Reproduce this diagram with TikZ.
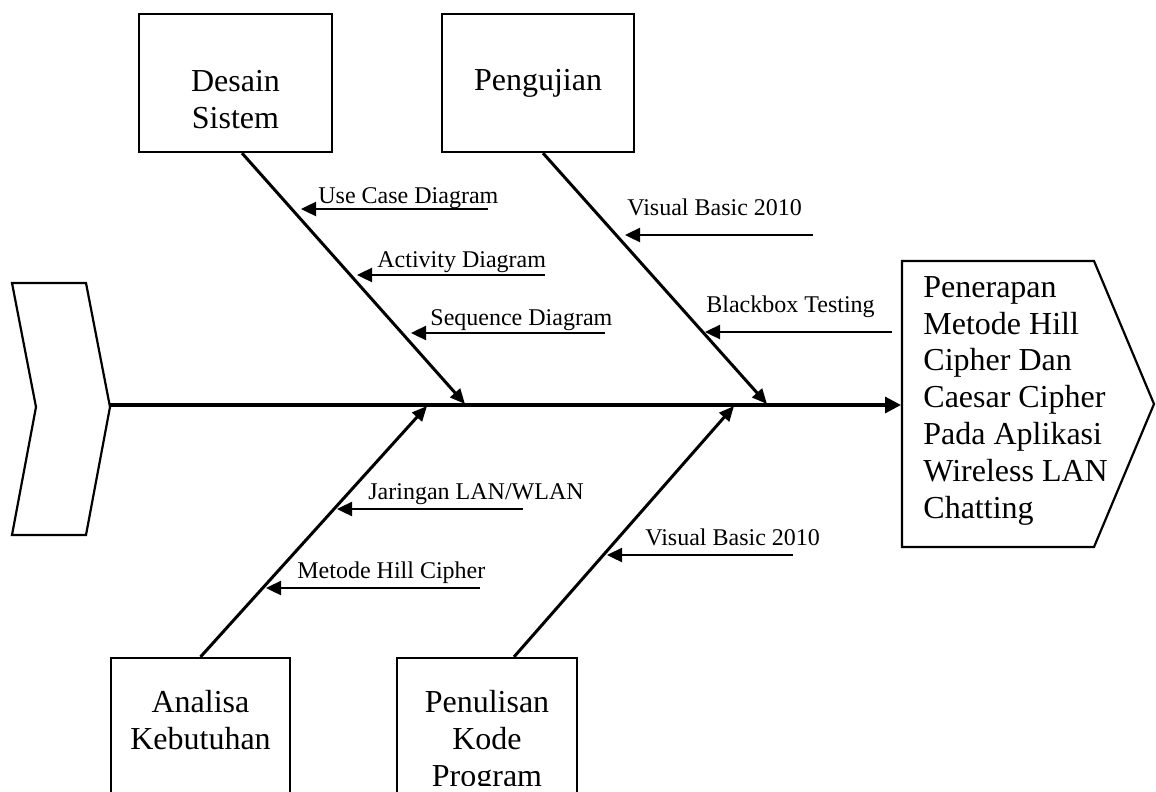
\documentclass[tikz,border=0pt]{standalone}
\usepackage{fontspec}
\setmainfont{Liberation Serif}
\usetikzlibrary{arrows.meta,positioning}

\begin{document}
\begin{tikzpicture}[
    x=0.5pt, y=-0.5pt,
    box/.style={draw, rectangle, line width=1.1pt, inner sep=0pt},
    boxtext/.style={inner sep=0pt, align=center, font={\fontsize{16}{18.4}\selectfont}},
    lbl/.style={inner sep=0pt, anchor=base west, font={\fontsize{12}{14}\selectfont}},
    spine/.style={line width=1.6pt, -{Triangle[length=8pt,width=8pt]}},
    bone/.style={line width=1.5pt, -{Triangle[length=7.5pt,width=6.5pt]}},
    cause/.style={line width=1.2pt, -{Triangle[length=7.5pt,width=7pt]}}
]
\useasboundingbox (0,0) rectangle (1156,792);
\clip (0,0) rectangle (1156,792);

% tail and head of the fish
\draw[line width=1.1pt] (12,283) -- (86,283) -- (110,407) -- (86,535) -- (12,535) -- (36,407) -- cycle;
\draw[line width=1.1pt] (902,261) -- (1094,261) -- (1154,404) -- (1094,547) -- (902,547) -- cycle;
\coordinate (tail) at (110,405);
\coordinate (head) at (901,405);
\node[boxtext, align=left, anchor=north west] (effect) at (923,276)
    {Penerapan\\Metode Hill\\Cipher Dan\\Caesar Cipher\\Pada Aplikasi\\Wireless LAN\\Chatting};
\draw[spine] (tail) -- (head);

% category boxes
\node[box, minimum width=96.5pt, minimum height=69pt] (desain) at (235.5,83) {};
\node[boxtext, below=28.5pt of desain.north] (desaintxt) {Desain\\Sistem};
\node[box, minimum width=96pt, minimum height=69pt] (pengujian) at (538,83) {};
\node[boxtext, below=28pt of pengujian.north] (pengujiantxt) {Pengujian};
\node[box, minimum width=89.5pt, minimum height=81pt] (analisa) at (200.5,739) {};
\node[boxtext, below=16.5pt of analisa.north] (analisatxt) {Analisa\\Kebutuhan};
\node[box, minimum width=90pt, minimum height=81pt] (penulisan) at (487,739) {};
\begin{scope}
  % text box overflows: last line is cut
  \clip (397,650) rectangle (577,785);
  \node[boxtext, below=16.5pt of penulisan.north] (penulisantxt) {Penulisan\\Kode\\Program};
\end{scope}

% bones
\coordinate (desaintip) at (465,404);
\coordinate (pengujiantip) at (767,404);
\coordinate (analisatip) at (427,406);
\coordinate (penulisantip) at (734,406);
\draw[bone] ([xshift=3.25pt]desain.south) -- (desaintip);
\draw[bone] ([xshift=2.5pt]pengujian.south) -- (pengujiantip);
\draw[bone] (analisa.north) -- (analisatip);
\draw[bone] ([xshift=13.5pt]penulisan.north) -- (penulisantip);

% causes
\coordinate (uc1) at (488,209);  \coordinate (uc2) at (301,209);
\coordinate (ad1) at (545,275);  \coordinate (ad2) at (357,275);
\coordinate (sd1) at (605,333);  \coordinate (sd2) at (411,333);
\coordinate (vb1) at (813,235);  \coordinate (vb2) at (625,235);
\coordinate (bt1) at (892,332);  \coordinate (bt2) at (705,332);
\coordinate (jl1) at (523,509);  \coordinate (jl2) at (337,509);
\coordinate (mh1) at (480,588);  \coordinate (mh2) at (266,588);
\coordinate (vc1) at (793,555);  \coordinate (vc2) at (607,555);
\draw[cause] (uc1) -- (uc2);
\draw[cause] (ad1) -- (ad2);
\draw[cause] (sd1) -- (sd2);
\draw[cause] (vb1) -- (vb2);
\draw[cause] (bt1) -- (bt2);
\draw[cause] (jl1) -- (jl2);
\draw[cause] (mh1) -- (mh2);
\draw[cause] (vc1) -- (vc2);

\node[lbl] (uclbl) at (318,203) {Use Case Diagram};
\node[lbl] (adlbl) at (377,267) {Activity Diagram};
\node[lbl] (sdlbl) at (430,325) {Sequence Diagram};
\node[lbl] (vblbl) at (627,215) {Visual Basic 2010};
\node[lbl] (btlbl) at (706,312) {Blackbox Testing};
\node[lbl] (jllbl) at (368,499) {Jaringan LAN/WLAN};
\node[lbl] (mhlbl) at (297,578) {Metode Hill Cipher};
\node[lbl] (vclbl) at (645,545) {Visual Basic 2010};
\end{tikzpicture}
\end{document}
